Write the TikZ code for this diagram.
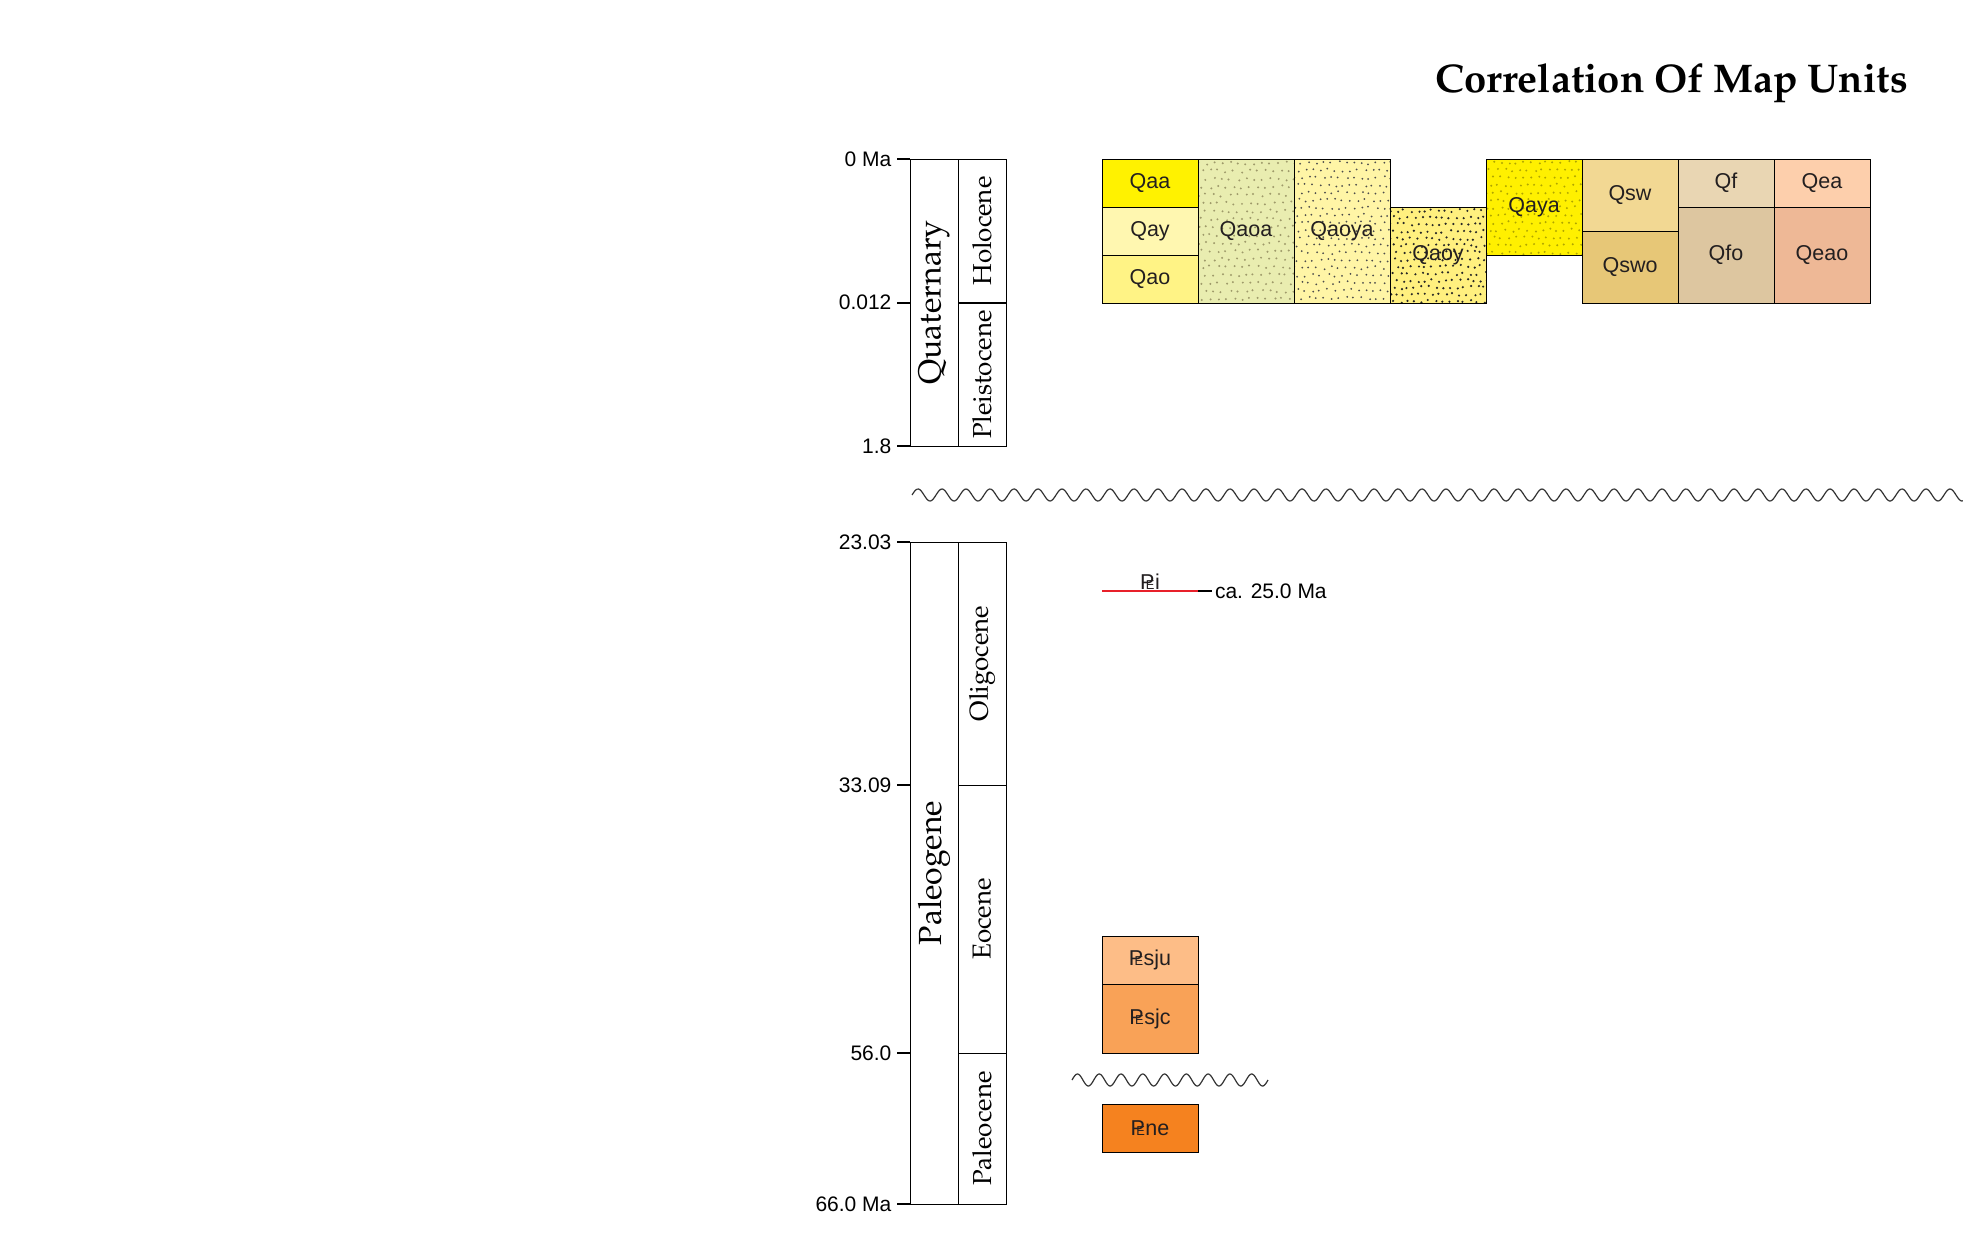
\documentclass[tikz,border=0pt]{standalone}
\usepackage[T1,TU]{fontenc}
\usepackage{fontspec}
\newfontfamily\labelfont{Liberation Sans}
\newcommand\palfont{\fontencoding{T1}\fontfamily{ppl}\selectfont}
\newcommand\Pgsym{P\kern-0.4em\scalebox{0.6}{E}\kern0.02em}
\usetikzlibrary{positioning,calc}

\definecolor{labelink}{HTML}{231F20}
\definecolor{qaacol}{HTML}{FFF200}
\definecolor{qaycol}{HTML}{FFF7B0}
\definecolor{qaocol}{HTML}{FFF385}
\definecolor{qaoacol}{HTML}{E9EDB0}
\definecolor{qaoyacol}{HTML}{FFF5A6}
\definecolor{qaoycol}{HTML}{FFF07F}
\definecolor{qayacol}{HTML}{FFF000}
\definecolor{qswcol}{HTML}{F2D893}
\definecolor{qswocol}{HTML}{E7C777}
\definecolor{qfcol}{HTML}{E9D6B3}
\definecolor{qfocol}{HTML}{DDC6A0}
\definecolor{qeacol}{HTML}{FDCFAC}
\definecolor{qeaocol}{HTML}{EEB896}
\definecolor{resjucol}{HTML}{FDBD87}
\definecolor{resjccol}{HTML}{F9A257}
\definecolor{renecol}{HTML}{F5821F}
\definecolor{contactred}{HTML}{E8202A}

\begin{document}
\pgfmathsetseed{7}
\begin{tikzpicture}[x=1pt,y=-1pt,
    unitbox/.style={draw=black, line width=1pt, inner sep=0pt, outer sep=0pt,
      minimum width=96pt, text=labelink, font=\labelfont\fontsize{21.5}{21.5}\selectfont},
    speckle/.style n args={3}{path picture={
      \foreach \j in {0,...,22}{\foreach \i in {0,...,14}{
        \fill[#1] ($(path picture bounding box.north west)+({(\i+0.5*mod(\j,2))*#3+1.6*rand},{(\j+0.5)*#3+1.6*rand})$) circle (#2);}}}},
    periodbox/.style={draw=black, line width=0.9pt, inner sep=0pt, outer sep=0pt,
      minimum height=48pt, rotate=90, font=\palfont\fontsize{32}{32}\selectfont},
    epochbox/.style={periodbox, font=\palfont\fontsize{26}{26}\selectfont},
    tick/.style={line width=2.2pt},
    agelabel/.style={anchor=east, inner sep=0pt, xshift=-4pt, text=black,
      font=\labelfont\fontsize{21}{21}\selectfont},
    wavy/.style={line width=1.2pt, black!80}]
  \useasboundingbox (0,0) rectangle (1963,1234);

  % Title
  \node[anchor=base east, inner sep=0pt, font=\palfont\bfseries\fontsize{40}{40}\selectfont] (title) at (1908,92) {Correlation Of Map Units};

  % Time scale, Quaternary
  \node[periodbox, minimum width=287pt] (quat) at (934,302.5) {Quaternary};
  \node[epochbox, minimum width=143.7pt] (holo) at (982,231) {Holocene};
  \node[epochbox, minimum width=143.3pt] (pleist) at (982,374.6) {Pleistocene};
  \coordinate (t0) at (910,159);
  \coordinate (t1) at (910,302.7);
  \coordinate (t2) at (910,446);
  \draw[tick] (t0) -- ++(-13.5,0) node[agelabel] {0 Ma};
  \draw[tick] (t1) -- ++(-13.5,0) node[agelabel] {0.012};
  \draw[tick] (t2) -- ++(-13.5,0) node[agelabel] {1.8};

  % Time scale, Paleogene
  \node[periodbox, minimum width=662pt] (paleo) at (934,873) {Paleogene};
  \node[epochbox, minimum width=243pt] (oligo) at (982,663.5) {Oligocene};
  \node[epochbox, minimum width=268pt] (eoc) at (982,919) {Eocene};
  \node[epochbox, minimum width=151pt] (paleoc) at (982,1128.5) {Paleocene};
  \coordinate (t3) at (910,542);
  \coordinate (t4) at (910,785);
  \coordinate (t5) at (910,1053);
  \coordinate (t6) at (910,1204);
  \draw[tick] (t3) -- ++(-13.5,0) node[agelabel] {23.03};
  \draw[tick] (t4) -- ++(-13.5,0) node[agelabel] {33.09};
  \draw[tick] (t5) -- ++(-13.5,0) node[agelabel] {56.0};
  \draw[tick] (t6) -- ++(-13.5,0) node[agelabel] {66.0 Ma};

  % Quaternary units
  \node[unitbox, fill=qaacol, minimum height=48pt, anchor=north west] (qaa) at (1102,159) {Qaa};
  \node[unitbox, fill=qaycol, minimum height=48pt, below=0pt of qaa] (qay) {Qay};
  \node[unitbox, fill=qaocol, minimum height=48pt, below=0pt of qay] (qao) {Qao};
  \node[unitbox, fill=qaoacol, speckle={black!45!olive!60}{1.1pt}{8}, minimum height=144pt, anchor=north west] (qaoa) at (1198,159) {Qaoa};
  \node[unitbox, fill=qaoyacol, speckle={black!70}{1pt}{7.5}, minimum height=144pt, anchor=north west] (qaoya) at (1294,159) {Qaoya};
  \node[unitbox, fill=qaoycol, speckle={black!85}{1.2pt}{7}, minimum height=96pt, anchor=north west] (qaoy) at (1390,207) {Qaoy};
  \node[unitbox, fill=qayacol, speckle={olive!70!yellow}{1.1pt}{7.5}, minimum height=96pt, anchor=north west] (qaya) at (1486,159) {Qaya};
  \node[unitbox, fill=qswcol, minimum height=72pt, anchor=north west] (qsw) at (1582,159) {Qsw};
  \node[unitbox, fill=qswocol, minimum height=72pt, below=0pt of qsw] (qswo) {Qswo};
  \node[unitbox, fill=qfcol, minimum height=48pt, anchor=north west] (qf) at (1678,159) {Qf};
  \node[unitbox, fill=qfocol, minimum height=96pt, below=0pt of qf] (qfo) {Qfo};
  \node[unitbox, fill=qeacol, minimum height=48pt, anchor=north west] (qea) at (1774,159) {Qea};
  \node[unitbox, fill=qeaocol, minimum height=96pt, below=0pt of qea] (qeao) {Qeao};

  % Unconformity
  \draw[wavy] plot[domain=912:1963, samples=800] (\x,{495-6*sin(15*(\x-912))});

  % Paleogene units
  \coordinate (reiw) at (1102,591);
  \coordinate (reie) at (1198,591);
  \draw[contactred, line width=1.5pt] (reiw) -- (reie);
  \node[anchor=south, inner sep=1pt, text=labelink, font=\labelfont\fontsize{21.5}{21.5}\selectfont] (rei) at ($(reiw)!0.5!(reie)$) {\Pgsym i};
  \draw[tick, line width=2pt] (reie) -- ++(14,0) node[anchor=west, inner sep=0pt, xshift=2pt, font=\labelfont\fontsize{21}{21}\selectfont] (reiage) {ca. 25.0 Ma};

  \node[unitbox, fill=resjucol, minimum height=48pt, anchor=north west] (resju) at (1102,936) {\Pgsym sju};
  \node[unitbox, fill=resjccol, minimum height=69pt, below=0pt of resju] (resjc) {\Pgsym sjc};
  \draw[wavy] plot[domain=1072:1268, samples=200] (\x,{1080-6*sin(16.53*(\x-1072))});
  \node[unitbox, fill=renecol, minimum height=48pt, anchor=north west] (rene) at (1102,1104) {\Pgsym ne};
\end{tikzpicture}
\end{document}
